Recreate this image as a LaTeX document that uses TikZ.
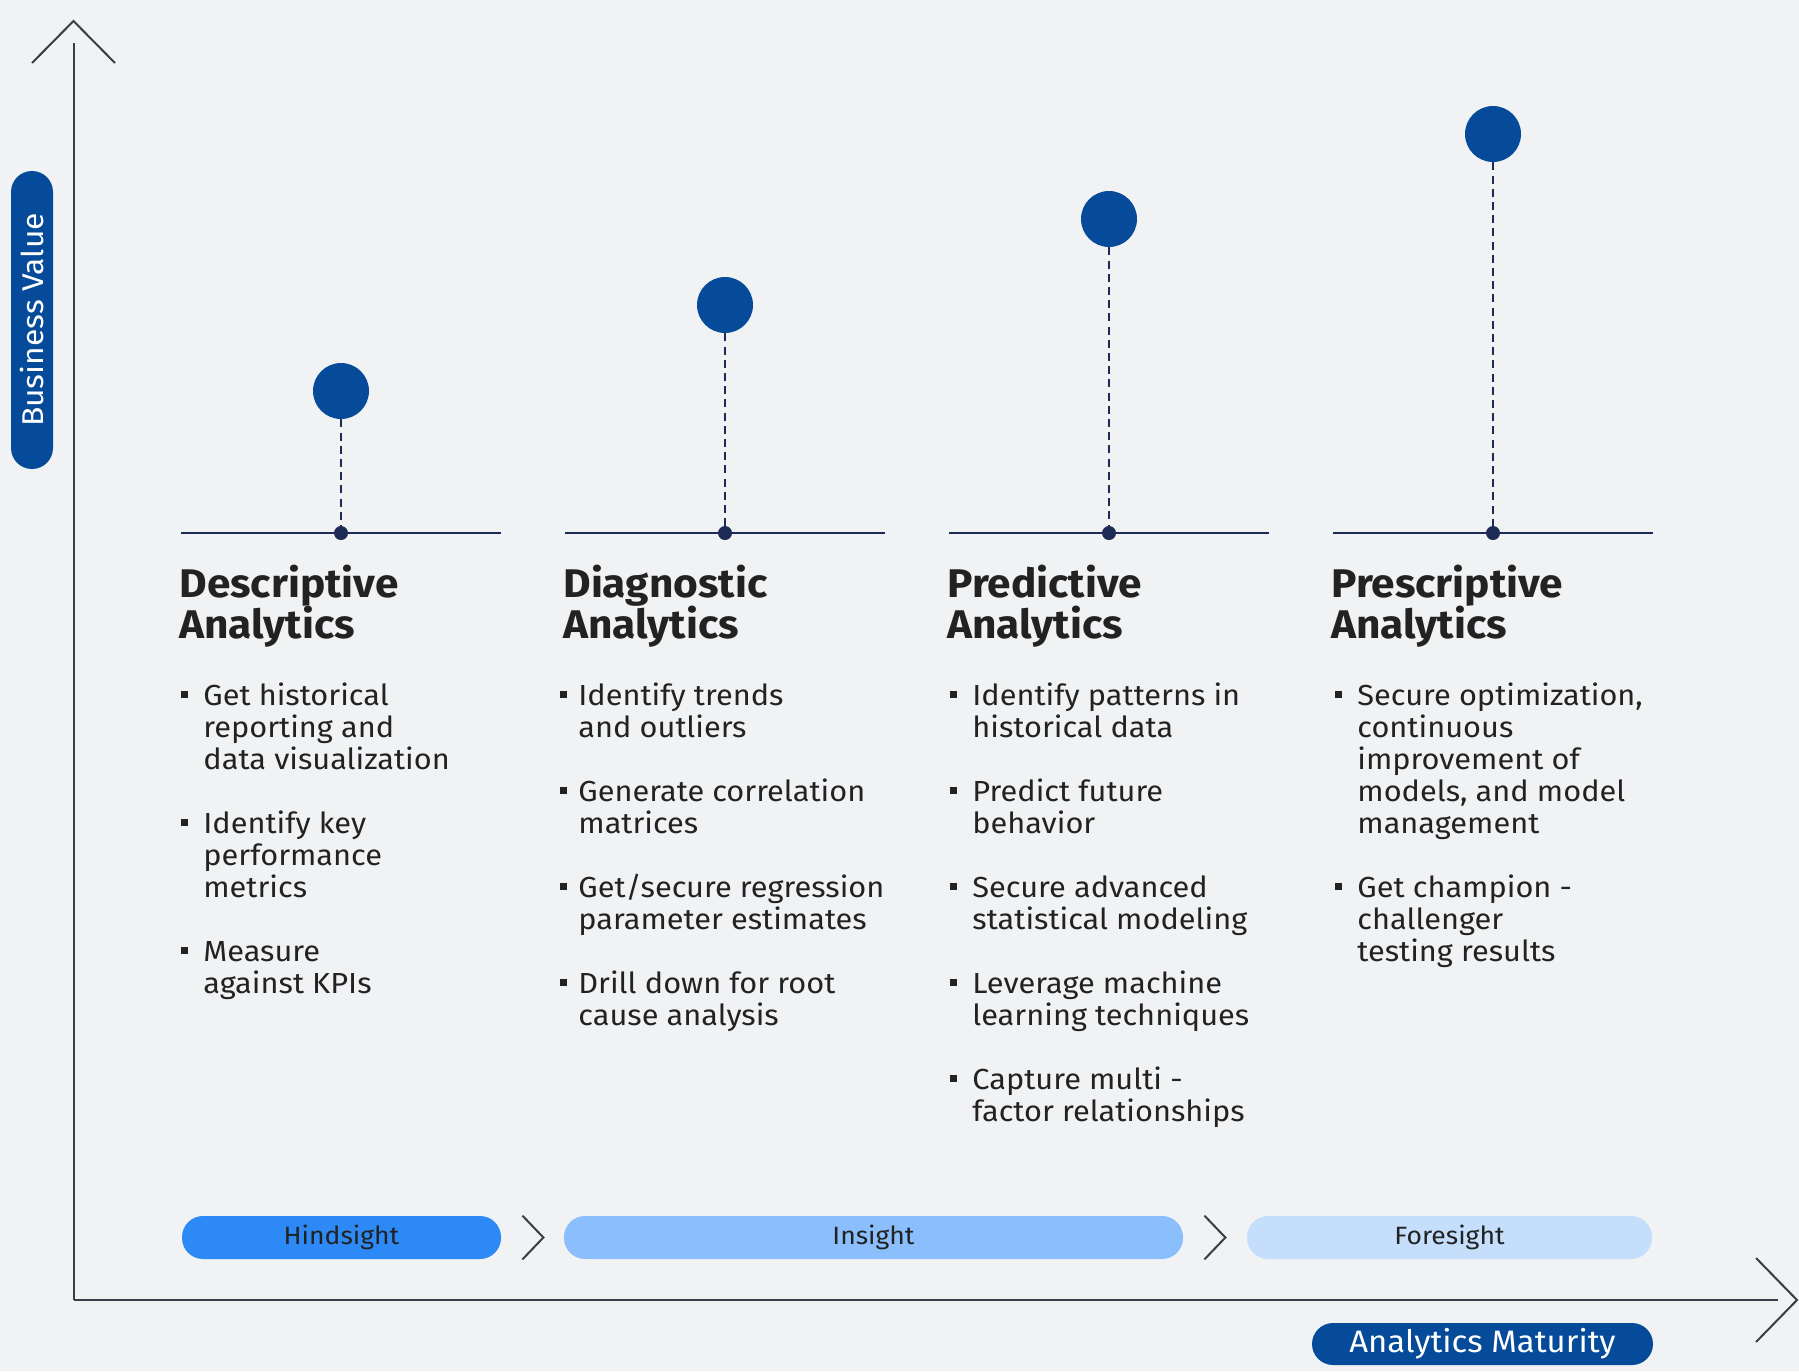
\documentclass[tikz,border=0pt]{standalone}
\usepackage{fontspec}
\setmainfont{Fira Sans}[FakeStretch=1.06]
\usetikzlibrary{positioning}

\definecolor{bgGray}{HTML}{F1F2F4}
\definecolor{deepBlue}{HTML}{064A9A}
\definecolor{navyLine}{HTML}{1B2B55}
\definecolor{axisGray}{HTML}{3A3D45}
\definecolor{inkDark}{HTML}{222222}
\definecolor{hindBlue}{HTML}{2D89F5}
\definecolor{insBlue}{HTML}{8ABEFC}
\definecolor{foreBlue}{HTML}{C4DEFB}

% first-line spacers with no depth
\newcommand\itemtop{\rule{0pt}{14pt}}
\newcommand\titletop{\rule{0pt}{18pt}}
\newcommand\fixlines{\lineskiplimit -20pt\relax}

\tikzset{
  bigdot/.style={circle, fill=deepBlue, inner sep=0pt, minimum size=28pt},
  knotdot/.style={circle, fill=navyLine, inner sep=0pt, minimum size=7pt},
  stem/.style={navyLine, line width=1pt, dash pattern=on 4pt off 2.6pt},
  groundline/.style={navyLine, line width=1.2pt},
  axisline/.style={axisGray, line width=1pt},
  chev/.style={axisGray, line width=1pt},
  title/.style={anchor=north west, inner sep=0pt, align=left, text=inkDark,
    font=\fontsize{20pt}{20.5pt}\selectfont\bfseries\fixlines},
  item/.style={anchor=north west, inner sep=0pt, align=left, text=inkDark,
    font=\fontsize{14.5pt}{16pt}\selectfont\fixlines},
  pill/.style={rounded corners=10.5pt, inner sep=0pt, minimum height=21.5pt,
    text=inkDark, font=\fontsize{12.5pt}{15pt}\selectfont},
}

\begin{document}
\begin{tikzpicture}[x=0.5pt,y=-0.5pt]
  % background
  \fill[bgGray] (0,0) rectangle (1799,1371);
  \useasboundingbox (0,0) rectangle (1799,1371);

  % axes
  \coordinate (origin) at (73.5,1300);
  \coordinate (ytop) at (73.5,43);
  \coordinate (xend) at (1778,1300);
  \draw[axisline] (origin) -- (ytop);
  \draw[axisline] (origin) -- (xend);
  \draw[chev] (32,63) -- (73.5,21) -- (115,63);
  \draw[chev] (1756,1258) -- (1797,1300) -- (1756,1342);

  \node[pill, fill=deepBlue, text=white, rotate=90, minimum width=149pt, minimum height=21pt,
    font=\fontsize{15pt}{17pt}\selectfont] (bval) at (32,320) {Business Value};
  \node[pill, fill=deepBlue, text=white, minimum width=170.5pt, minimum height=21pt,
    font=\fontsize{15.5pt}{17pt}\selectfont] (amat) at (1482.5,1344) {Analytics Maturity};

  % lollipops
  \draw[groundline] (181,533) -- (501,533);
  \draw[groundline] (565,533) -- (885,533);
  \draw[groundline] (949,533) -- (1269,533);
  \draw[groundline] (1333,533) -- (1653,533);
  \node[bigdot] (dot1) at (341,391) {};
  \node[bigdot] (dot2) at (725,305) {};
  \node[bigdot] (dot3) at (1109,219) {};
  \node[bigdot] (dot4) at (1493,134) {};
  \node[knotdot] (knot1) at (341,533) {};
  \node[knotdot] (knot2) at (725,533) {};
  \node[knotdot] (knot3) at (1109,533) {};
  \node[knotdot] (knot4) at (1493,533) {};
  \foreach \i in {1,...,4}
    \draw[stem] (dot\i) -- (knot\i);

  % titles
  \node[title] (tdesc) at (179,561) {\titletop Descriptive\\Analytics};
  \node[title] (tdiag) at (563,561) {\titletop Diagnostic\\Analytics};
  \node[title] (tpred) at (947,561) {\titletop Predictive\\Analytics};
  \node[title] (tpres) at (1331,561) {\titletop Prescriptive\\Analytics};

  % Descriptive
  \node[item] (desc1) at (203,677) {\itemtop Get historical\\reporting and\\data visualization};
  \node[item] (desc2) at (203,805) {\itemtop Identify key\\performance\\metrics};
  \node[item] (desc3) at (203,933) {\itemtop Measure\\against KPIs};

  % Diagnostic
  \node[item] (diag1) at (578,677) {\itemtop Identify trends\\and outliers};
  \node[item] (diag2) at (578,773) {\itemtop Generate correlation\\matrices};
  \node[item] (diag3) at (578,869) {\itemtop Get/secure regression\\parameter estimates};
  \node[item] (diag4) at (578,965) {\itemtop Drill down for root\\cause analysis};

  % Predictive
  \node[item] (pred1) at (972,677) {\itemtop Identify patterns in\\historical data};
  \node[item] (pred2) at (972,773) {\itemtop Predict future\\behavior};
  \node[item] (pred3) at (972,869) {\itemtop Secure advanced\\statistical modeling};
  \node[item] (pred4) at (972,965) {\itemtop Leverage machine\\learning techniques};
  \node[item] (pred5) at (972,1061) {\itemtop Capture multi -\\factor relationships};

  % Prescriptive
  \node[item] (pres1) at (1357,677) {\itemtop Secure optimization,\\continuous\\improvement of\\models, and model\\management};
  \node[item] (pres2) at (1357,869) {\itemtop Get champion -\\challenger\\testing results};

  % bullets
  \foreach \n in {desc1,desc2,desc3,pred1,pred2,pred3,pred4,pred5,pres1,pres2}
    \fill[inkDark] ([xshift=-11pt,yshift=-7pt]\n.north west) rectangle ++(3.5pt,-3.5pt);
  \foreach \n in {diag1,diag2,diag3,diag4}
    \fill[inkDark] ([xshift=-9pt,yshift=-7pt]\n.north west) rectangle ++(3.5pt,-3.5pt);

  % stages
  \node[pill, fill=hindBlue, minimum width=159.5pt] (hind) at (341.5,1237.5) {Hindsight};
  \node[pill, fill=insBlue, minimum width=309.5pt] (ins) at (873.5,1237.5) {Insight};
  \node[pill, fill=foreBlue, minimum width=202.5pt] (fore) at (1449.5,1237.5) {Foresight};
  \draw[chev] ([xshift=10.5pt]hind.north east) -- ([xshift=21pt]hind.east) -- ([xshift=10.5pt]hind.south east);
  \draw[chev] ([xshift=10.5pt]ins.north east) -- ([xshift=21pt]ins.east) -- ([xshift=10.5pt]ins.south east);
\end{tikzpicture}
\end{document}
